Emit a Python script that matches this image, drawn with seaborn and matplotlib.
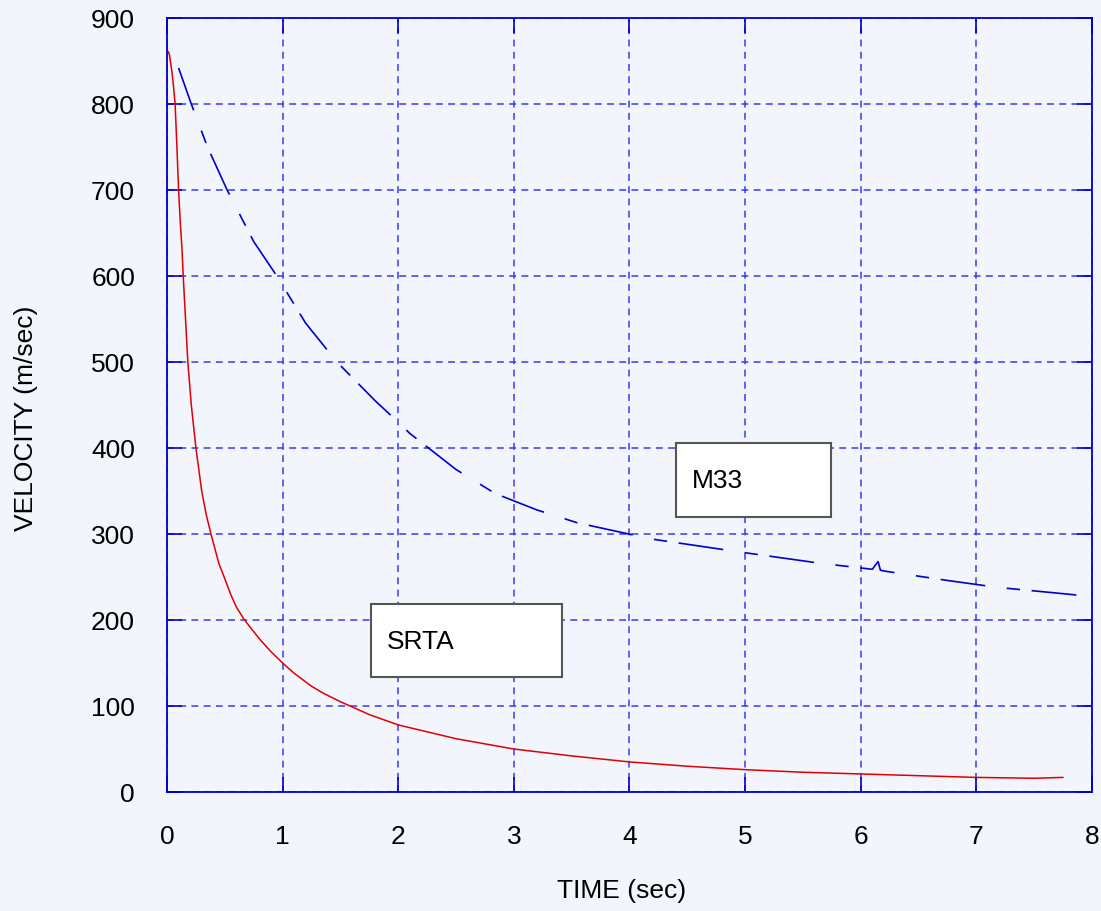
import matplotlib
matplotlib.use('Agg')
import matplotlib.pyplot as plt
from matplotlib.patches import Rectangle
import seaborn as sns
import pandas as pd

# values
srta_time = [0.0, 0.01, 0.02, 0.04, 0.055, 0.07, 0.085, 0.10, 0.115, 0.13,
             0.14, 0.16, 0.18, 0.21, 0.25, 0.30, 0.34, 0.38, 0.45, 0.50,
             0.55, 0.60, 0.67, 0.80, 0.90, 1.0, 1.1, 1.25, 1.35, 1.5, 1.75,
             2.0, 2.5, 3.0, 3.5, 4.0, 4.5, 5.0, 5.5, 6.0, 6.5, 7.0, 7.5, 7.75]
srta_vel = [862, 861, 858, 840, 822, 800, 752, 700, 662, 630,
            600, 550, 500, 450, 400, 350, 322, 300, 265, 248,
            230, 215, 200, 178, 163, 150, 138, 123, 115, 105, 90,
            78, 62, 50, 42, 35, 30, 26, 23, 21, 19, 17, 16, 17]

m33_time = [0.10, 0.21, 0.35, 0.52, 0.75, 0.95, 1.2, 1.47, 1.8, 2.0, 2.1,
            2.5, 2.84, 3.2, 3.55, 4.2, 4.96, 5.65, 6.1, 6.15, 6.17, 6.2,
            6.75, 7.18, 7.8, 8.0]
m33_vel = [842, 800, 750, 700, 640, 600, 545, 500, 455, 430, 417,
           375, 347, 328, 313, 294, 279, 266, 259, 268, 258, 257,
           246, 238, 230, 227]

x_ticks = [0, 1, 2, 3, 4, 5, 6, 7, 8]
y_ticks = [0, 100, 200, 300, 400, 500, 600, 700, 800, 900]

bg = '#f2f5fb'
sns.set_theme(style='ticks')
plt.rcParams['font.family'] = ['Liberation Sans', 'DejaVu Sans']
plt.rcParams['text.color'] = 'black'
plt.rcParams['axes.labelcolor'] = 'black'

df_srta = pd.DataFrame({'time': srta_time, 'vel': srta_vel})
df_m33 = pd.DataFrame({'time': m33_time, 'vel': m33_vel})

fig = plt.figure(figsize=(11.01, 9.11), dpi=100, facecolor=bg)
ax = fig.add_axes([0.1517, 0.1306, 0.8401, 0.8496])
ax.set_facecolor(bg)

sns.lineplot(data=df_srta, x='time', y='vel', ax=ax, color='#e00000',
             linewidth=1.1, estimator=None, sort=False)
sns.lineplot(data=df_m33, x='time', y='vel', ax=ax, color='#0000cc',
             linewidth=1.2, estimator=None, sort=False)
ax.lines[-1].set_dashes((27, 13, 8, 7))

ax.set_xlim(0, 8)
ax.set_ylim(0, 900)
ax.set_xticks(x_ticks)
ax.set_yticks(y_ticks)
ax.tick_params(direction='in', length=11, width=1.2, color='#0000cc',
               labelsize=19, labelcolor='black', top=True, right=True,
               pad=24)
ax.tick_params(axis='y', pad=23)
ax.grid(True, color='#3a3af0', linestyle=(0, (4.5, 3.5)), linewidth=1.1)
for s in ax.spines.values():
    s.set_color('#0000cc')
    s.set_linewidth(1.3)
    s.set_visible(True)

ax.set_xlabel('TIME (sec)', fontsize=19)
ax.set_ylabel('VELOCITY (m/sec)', fontsize=19)
ax.xaxis.set_label_coords(0.491, -0.113)
ax.yaxis.set_label_coords(-0.1395, 0.483)

# label boxes
ax.add_patch(Rectangle((4.40, 320), 1.34, 86, facecolor='white',
                       edgecolor='#555555', linewidth=1.5, zorder=5))
ax.text(4.54, 362, 'M33', fontsize=19, va='center', ha='left', zorder=6)
ax.add_patch(Rectangle((1.76, 134), 1.66, 85, facecolor='white',
                       edgecolor='#555555', linewidth=1.5, zorder=5))
ax.text(1.90, 175, 'SRTA', fontsize=19, va='center', ha='left', zorder=6)

fig.savefig('out.png', dpi=100, facecolor=bg)
